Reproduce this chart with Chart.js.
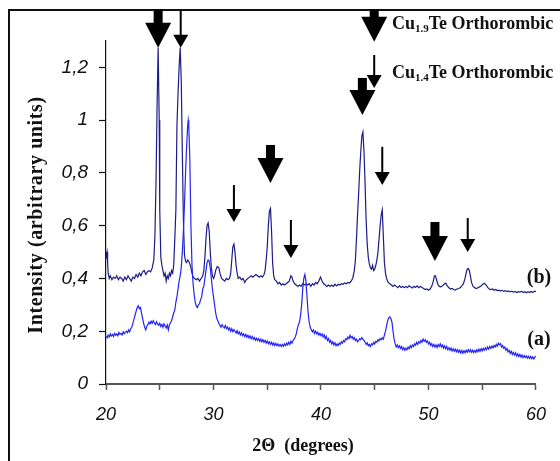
<!DOCTYPE html>
<html>
<head>
<meta charset="utf-8">
<script src="https://cdn.jsdelivr.net/npm/chart.js@4.4.1/dist/chart.umd.min.js"></script>
<style>
  html, body { margin: 0; padding: 0; background: #fff; }
  #xrdChart { display: block; }
</style>
</head>
<body>
<canvas id="xrdChart" width="560" height="461"></canvas>
<script>
// sample (a) - blue trace, [2theta, intensity]
const seriesA = [
  [20.0, 0.18], [20.1, 0.175], [20.2, 0.185], [20.3, 0.178], [20.4, 0.19], [20.5, 0.182], [20.6, 0.188], [20.7, 0.18],
  [20.8, 0.192], [20.9, 0.185], [21.0, 0.19], [21.1, 0.183], [21.2, 0.195], [21.3, 0.188], [21.4, 0.192], [21.5, 0.186],
  [21.6, 0.198], [21.7, 0.19], [21.8, 0.196], [21.9, 0.2], [22.0, 0.194], [22.1, 0.205], [22.2, 0.198], [22.3, 0.21],
  [22.4, 0.215], [22.5, 0.23], [22.6, 0.245], [22.7, 0.26], [22.8, 0.275], [22.9, 0.29], [23.0, 0.296], [23.1, 0.285],
  [23.2, 0.29], [23.3, 0.27], [23.4, 0.25], [23.5, 0.23], [23.6, 0.215], [23.7, 0.205], [23.8, 0.22], [23.9, 0.225],
  [24.0, 0.235], [24.1, 0.228], [24.2, 0.238], [24.3, 0.23], [24.4, 0.24], [24.5, 0.232], [24.6, 0.225], [24.7, 0.236],
  [24.8, 0.228], [24.9, 0.222], [25.0, 0.23], [25.1, 0.218], [25.2, 0.226], [25.3, 0.215], [25.4, 0.228], [25.5, 0.22],
  [25.6, 0.212], [25.7, 0.224], [25.8, 0.205], [25.9, 0.225], [26.0, 0.232], [26.1, 0.24], [26.2, 0.255], [26.3, 0.27],
  [26.4, 0.28], [26.5, 0.31], [26.6, 0.33], [26.7, 0.36], [26.8, 0.39], [26.9, 0.41], [27.0, 0.44], [27.1, 0.5],
  [27.2, 0.58], [27.3, 0.68], [27.4, 0.8], [27.5, 0.9], [27.6, 0.98], [27.65, 1.0], [27.7, 0.98], [27.8, 0.85],
  [27.9, 0.6], [28.0, 0.45], [28.1, 0.38], [28.2, 0.34], [28.3, 0.31], [28.4, 0.295], [28.5, 0.29], [28.6, 0.3],
  [28.7, 0.305], [28.8, 0.32], [28.9, 0.33], [29.0, 0.36], [29.1, 0.37], [29.2, 0.4], [29.3, 0.43], [29.4, 0.46],
  [29.5, 0.47], [29.6, 0.465], [29.7, 0.44], [29.8, 0.4], [29.9, 0.36], [30.0, 0.33], [30.1, 0.3], [30.2, 0.27],
  [30.3, 0.25], [30.4, 0.24], [30.5, 0.23], [30.6, 0.222], [30.7, 0.215], [30.8, 0.225], [30.9, 0.218], [31.0, 0.212],
  [31.1, 0.222], [31.2, 0.21], [31.3, 0.216], [31.4, 0.205], [31.5, 0.212], [31.6, 0.2], [31.7, 0.21], [31.8, 0.198],
  [31.9, 0.206], [32.0, 0.2], [32.1, 0.193], [32.2, 0.202], [32.3, 0.19], [32.4, 0.197], [32.5, 0.186], [32.6, 0.194],
  [32.7, 0.183], [32.8, 0.19], [32.9, 0.18], [33.0, 0.188], [33.1, 0.177], [33.2, 0.185], [33.3, 0.175], [33.4, 0.182],
  [33.5, 0.172], [33.6, 0.18], [33.7, 0.17], [33.8, 0.176], [33.9, 0.166], [34.0, 0.174], [34.1, 0.165], [34.2, 0.172],
  [34.3, 0.162], [34.4, 0.17], [34.5, 0.16], [34.6, 0.168], [34.7, 0.158], [34.8, 0.165], [34.9, 0.155], [35.0, 0.163],
  [35.1, 0.153], [35.2, 0.16], [35.3, 0.15], [35.4, 0.158], [35.5, 0.148], [35.6, 0.156], [35.7, 0.146], [35.8, 0.154],
  [35.9, 0.145], [36.0, 0.152], [36.1, 0.144], [36.2, 0.15], [36.3, 0.142], [36.4, 0.15], [36.5, 0.143], [36.6, 0.152],
  [36.7, 0.145], [36.8, 0.155], [36.9, 0.148], [37.0, 0.158], [37.1, 0.15], [37.2, 0.162], [37.3, 0.155], [37.4, 0.165],
  [37.5, 0.17], [37.6, 0.178], [37.7, 0.19], [37.8, 0.21], [37.9, 0.225], [38.0, 0.235], [38.1, 0.26], [38.2, 0.3],
  [38.3, 0.36], [38.4, 0.4], [38.5, 0.415], [38.6, 0.39], [38.7, 0.33], [38.8, 0.27], [38.9, 0.235], [39.0, 0.215],
  [39.1, 0.205], [39.2, 0.198], [39.3, 0.205], [39.4, 0.192], [39.5, 0.2], [39.6, 0.19], [39.7, 0.196], [39.8, 0.185],
  [39.9, 0.192], [40.0, 0.183], [40.1, 0.19], [40.2, 0.178], [40.3, 0.186], [40.4, 0.172], [40.5, 0.18], [40.6, 0.165],
  [40.7, 0.172], [40.8, 0.158], [40.9, 0.165], [41.0, 0.152], [41.1, 0.16], [41.2, 0.148], [41.3, 0.156], [41.4, 0.145],
  [41.5, 0.152], [41.6, 0.146], [41.7, 0.155], [41.8, 0.15], [41.9, 0.16], [42.0, 0.155], [42.1, 0.165], [42.2, 0.16],
  [42.3, 0.172], [42.4, 0.168], [42.5, 0.178], [42.6, 0.172], [42.7, 0.185], [42.8, 0.175], [42.9, 0.18], [43.0, 0.17],
  [43.1, 0.176], [43.2, 0.165], [43.3, 0.17], [43.4, 0.16], [43.5, 0.165], [43.6, 0.172], [43.7, 0.168], [43.8, 0.176],
  [43.9, 0.17], [44.0, 0.165], [44.1, 0.158], [44.2, 0.15], [44.3, 0.156], [44.4, 0.145], [44.5, 0.15], [44.6, 0.142],
  [44.7, 0.152], [44.8, 0.148], [44.9, 0.158], [45.0, 0.152], [45.1, 0.162], [45.2, 0.158], [45.3, 0.168], [45.4, 0.163],
  [45.5, 0.172], [45.6, 0.168], [45.7, 0.175], [45.8, 0.17], [45.9, 0.185], [46.0, 0.2], [46.1, 0.22], [46.2, 0.24],
  [46.3, 0.25], [46.4, 0.255], [46.5, 0.248], [46.6, 0.235], [46.7, 0.2], [46.8, 0.17], [46.9, 0.152], [47.0, 0.14],
  [47.1, 0.148], [47.2, 0.138], [47.3, 0.145], [47.4, 0.135], [47.5, 0.142], [47.6, 0.13], [47.7, 0.138], [47.8, 0.128],
  [47.9, 0.136], [48.0, 0.13], [48.1, 0.14], [48.2, 0.133], [48.3, 0.145], [48.4, 0.138], [48.5, 0.148], [48.6, 0.142],
  [48.7, 0.152], [48.8, 0.147], [48.9, 0.158], [49.0, 0.15], [49.1, 0.16], [49.2, 0.155], [49.3, 0.165], [49.4, 0.158],
  [49.5, 0.17], [49.6, 0.162], [49.7, 0.168], [49.8, 0.158], [49.9, 0.163], [50.0, 0.152], [50.1, 0.158], [50.2, 0.146],
  [50.3, 0.153], [50.4, 0.142], [50.5, 0.15], [50.6, 0.14], [50.7, 0.148], [50.8, 0.138], [50.9, 0.15], [51.0, 0.142],
  [51.1, 0.152], [51.2, 0.14], [51.3, 0.148], [51.4, 0.136], [51.5, 0.145], [51.6, 0.134], [51.7, 0.142], [51.8, 0.13],
  [51.9, 0.138], [52.0, 0.128], [52.1, 0.136], [52.2, 0.125], [52.3, 0.134], [52.4, 0.124], [52.5, 0.132], [52.6, 0.122],
  [52.7, 0.13], [52.8, 0.12], [52.9, 0.128], [53.0, 0.118], [53.1, 0.127], [53.2, 0.117], [53.3, 0.126], [53.4, 0.118],
  [53.5, 0.128], [53.6, 0.12], [53.7, 0.13], [53.8, 0.122], [53.9, 0.13], [54.0, 0.12], [54.1, 0.128], [54.2, 0.119],
  [54.3, 0.127], [54.4, 0.12], [54.5, 0.13], [54.6, 0.122], [54.7, 0.132], [54.8, 0.124], [54.9, 0.134], [55.0, 0.126],
  [55.1, 0.135], [55.2, 0.128], [55.3, 0.137], [55.4, 0.13], [55.5, 0.14], [55.6, 0.132], [55.7, 0.142], [55.8, 0.135],
  [55.9, 0.144], [56.0, 0.137], [56.1, 0.146], [56.2, 0.14], [56.3, 0.15], [56.4, 0.143], [56.5, 0.155], [56.6, 0.148],
  [56.7, 0.153], [56.8, 0.14], [56.9, 0.146], [57.0, 0.135], [57.1, 0.14], [57.2, 0.128], [57.3, 0.134], [57.4, 0.122],
  [57.5, 0.128], [57.6, 0.116], [57.7, 0.124], [57.8, 0.112], [57.9, 0.12], [58.0, 0.11], [58.1, 0.118], [58.2, 0.106],
  [58.3, 0.114], [58.4, 0.104], [58.5, 0.112], [58.6, 0.102], [58.7, 0.11], [58.8, 0.1], [58.9, 0.108], [59.0, 0.1],
  [59.1, 0.106], [59.2, 0.098], [59.3, 0.105], [59.4, 0.097], [59.5, 0.104], [59.6, 0.096], [59.7, 0.103], [59.8, 0.095],
  [59.9, 0.102], [60.0, 0.105]
];

// sample (b) - navy trace
const seriesB = [
  [20.0, 0.50], [20.05, 0.49], [20.1, 0.50], [20.15, 0.46], [20.2, 0.42], [20.3, 0.40], [20.4, 0.41], [20.55, 0.395],
  [20.7, 0.405], [20.85, 0.40], [21.0, 0.41], [21.15, 0.395], [21.3, 0.405], [21.45, 0.40], [21.6, 0.39], [21.75, 0.405],
  [21.9, 0.395], [22.05, 0.41], [22.2, 0.40], [22.35, 0.39], [22.5, 0.405], [22.65, 0.40], [22.8, 0.415], [22.95, 0.405],
  [23.1, 0.42], [23.25, 0.41], [23.4, 0.425], [23.55, 0.43], [23.7, 0.415], [23.85, 0.425], [24.0, 0.43], [24.15, 0.425],
  [24.3, 0.44], [24.45, 0.47], [24.55, 0.56], [24.65, 0.76], [24.75, 1.05], [24.85, 1.275], [24.95, 1.0], [25.0, 0.66],
  [25.1, 0.48], [25.2, 0.45], [25.3, 0.43], [25.4, 0.41], [25.5, 0.42], [25.6, 0.39], [25.7, 0.41], [25.8, 0.40],
  [25.9, 0.42], [26.0, 0.41], [26.1, 0.43], [26.2, 0.42], [26.3, 0.45], [26.4, 0.55], [26.5, 0.66], [26.6, 0.98],
  [26.7, 1.1], [26.8, 1.2], [26.9, 1.275], [27.0, 1.15], [27.1, 0.88], [27.2, 0.62], [27.3, 0.49], [27.4, 0.465],
  [27.5, 0.46], [27.6, 0.47], [27.7, 0.465], [27.8, 0.455], [27.9, 0.44], [28.0, 0.42], [28.1, 0.405], [28.25, 0.40],
  [28.4, 0.395], [28.55, 0.40], [28.7, 0.39], [28.85, 0.40], [29.0, 0.41], [29.1, 0.43], [29.2, 0.48], [29.3, 0.55],
  [29.4, 0.60], [29.5, 0.61], [29.6, 0.58], [29.7, 0.50], [29.8, 0.44], [29.9, 0.41], [30.0, 0.40], [30.1, 0.41],
  [30.2, 0.43], [30.35, 0.445], [30.5, 0.44], [30.6, 0.42], [30.75, 0.40], [30.9, 0.395], [31.05, 0.39], [31.2, 0.40],
  [31.35, 0.395], [31.5, 0.40], [31.6, 0.42], [31.7, 0.47], [31.8, 0.52], [31.9, 0.53], [32.0, 0.50], [32.1, 0.45],
  [32.2, 0.42], [32.3, 0.40], [32.45, 0.405], [32.6, 0.395], [32.75, 0.40], [32.9, 0.385], [33.05, 0.395], [33.2, 0.40],
  [33.35, 0.405], [33.5, 0.41], [33.65, 0.405], [33.8, 0.41], [33.95, 0.415], [34.1, 0.41], [34.25, 0.405], [34.4, 0.41],
  [34.55, 0.405], [34.7, 0.415], [34.8, 0.43], [34.9, 0.47], [35.0, 0.52], [35.1, 0.60], [35.2, 0.655], [35.3, 0.665],
  [35.4, 0.58], [35.5, 0.46], [35.6, 0.41], [35.7, 0.395], [35.85, 0.39], [36.0, 0.38], [36.15, 0.385], [36.3, 0.375],
  [36.45, 0.38], [36.6, 0.375], [36.75, 0.38], [36.9, 0.385], [37.05, 0.39], [37.2, 0.41], [37.3, 0.405], [37.4, 0.39],
  [37.55, 0.38], [37.7, 0.375], [37.85, 0.37], [38.0, 0.375], [38.15, 0.37], [38.3, 0.38], [38.45, 0.375], [38.6, 0.38],
  [38.75, 0.375], [38.9, 0.38], [39.05, 0.37], [39.2, 0.38], [39.35, 0.375], [39.5, 0.385], [39.65, 0.38], [39.8, 0.39],
  [39.95, 0.405], [40.1, 0.39], [40.25, 0.38], [40.4, 0.375], [40.55, 0.37], [40.7, 0.375], [40.85, 0.37], [41.0, 0.375],
  [41.15, 0.37], [41.3, 0.378], [41.45, 0.372], [41.6, 0.378], [41.75, 0.375], [41.9, 0.38], [42.05, 0.378], [42.2, 0.383],
  [42.35, 0.38], [42.5, 0.385], [42.65, 0.383], [42.8, 0.39], [42.95, 0.40], [43.1, 0.43], [43.2, 0.47], [43.3, 0.55],
  [43.4, 0.64], [43.5, 0.72], [43.6, 0.81], [43.7, 0.88], [43.8, 0.94], [43.9, 0.955], [44.0, 0.88], [44.1, 0.76],
  [44.2, 0.62], [44.3, 0.53], [44.4, 0.48], [44.5, 0.455], [44.6, 0.44], [44.7, 0.435], [44.8, 0.45], [44.9, 0.43],
  [45.0, 0.435], [45.1, 0.45], [45.2, 0.47], [45.3, 0.50], [45.4, 0.55], [45.5, 0.60], [45.6, 0.64], [45.7, 0.66],
  [45.8, 0.56], [45.9, 0.46], [46.0, 0.42], [46.1, 0.40], [46.25, 0.385], [46.4, 0.38], [46.55, 0.375], [46.7, 0.37],
  [46.85, 0.375], [47.0, 0.37], [47.15, 0.365], [47.3, 0.372], [47.45, 0.366], [47.6, 0.37], [47.75, 0.365], [47.9, 0.37],
  [48.05, 0.366], [48.2, 0.372], [48.35, 0.368], [48.5, 0.364], [48.65, 0.37], [48.8, 0.366], [48.95, 0.372], [49.1, 0.365],
  [49.25, 0.37], [49.4, 0.366], [49.55, 0.362], [49.7, 0.358], [49.85, 0.36], [50.0, 0.355], [50.15, 0.36], [50.3, 0.37],
  [50.45, 0.39], [50.55, 0.41], [50.65, 0.41], [50.75, 0.395], [50.85, 0.38], [51.0, 0.37], [51.15, 0.368], [51.3, 0.372],
  [51.45, 0.378], [51.6, 0.382], [51.75, 0.372], [51.9, 0.365], [52.05, 0.36], [52.2, 0.362], [52.35, 0.358], [52.5, 0.356],
  [52.65, 0.36], [52.8, 0.362], [52.95, 0.365], [53.1, 0.372], [53.25, 0.38], [53.4, 0.40], [53.5, 0.42], [53.6, 0.435],
  [53.7, 0.438], [53.8, 0.43], [53.9, 0.41], [54.0, 0.385], [54.15, 0.37], [54.3, 0.365], [54.45, 0.362], [54.6, 0.365],
  [54.75, 0.368], [54.9, 0.372], [55.05, 0.378], [55.2, 0.382], [55.35, 0.376], [55.5, 0.366], [55.65, 0.36], [55.8, 0.358],
  [55.95, 0.36], [56.1, 0.355], [56.25, 0.358], [56.4, 0.354], [56.55, 0.356], [56.7, 0.352], [56.85, 0.355], [57.0, 0.351],
  [57.15, 0.354], [57.3, 0.35], [57.45, 0.353], [57.6, 0.349], [57.75, 0.352], [57.9, 0.348], [58.05, 0.351], [58.2, 0.347],
  [58.35, 0.35], [58.5, 0.348], [58.65, 0.352], [58.8, 0.347], [58.95, 0.35], [59.1, 0.346], [59.25, 0.35], [59.4, 0.347],
  [59.55, 0.351], [59.7, 0.347], [59.85, 0.352], [60.0, 0.35]
];

// phase markers: [2theta, tail value, tip value]
const cu19Markers = [[24.85, 1.418, 1.274], [35.3, 0.906, 0.762], [43.85, 1.16, 1.02], [50.6, 0.614, 0.466]];
const cu14Markers = [[26.95, 1.418, 1.274], [31.9, 0.754, 0.614], [37.2, 0.622, 0.478], [45.7, 0.899, 0.754], [53.65, 0.629, 0.50]];
const keyMarkers = [[44.95, 1.418, 1.297, 'thick'], [44.95, 1.247, 1.122, 'thin']];

const xTicks = { min: 20, max: 60, step: 5 };
const yTicks = { min: 0, max: 1.3, step: 0.2 };

const serif = '"Liberation Serif", "Times New Roman", serif';
const sans = '"Liberation Sans", Arial, sans-serif';

const toPoints = (rows) => rows.map((r) => ({ x: r[0], y: r[1] }));

const drawArrow = (ctx, x, yTail, yTip, thick) => {
  const shaft = thick ? 9 : 2;
  const headW = thick ? 26 : 15;
  const headL = thick ? 25 : 13;
  ctx.fillStyle = '#000';
  ctx.fillRect(x - shaft / 2, yTail, shaft, yTip - headL - yTail + 1);
  ctx.beginPath();
  ctx.moveTo(x - headW / 2, yTip - headL);
  ctx.lineTo(x + headW / 2, yTip - headL);
  ctx.lineTo(x, yTip);
  ctx.closePath();
  ctx.fill();
};

const drawRich = (ctx, parts, x, y, size) => {
  let cx = x;
  parts.forEach((p) => {
    const s = p.sub ? Math.round(size * 0.62) : size;
    ctx.font = `bold ${s}px ${serif}`;
    ctx.fillText(p.t, cx, p.sub ? y + 3 : y);
    cx += ctx.measureText(p.t).width;
  });
};

const decorations = {
  id: 'decorations',
  beforeDraw(chart) {
    const ctx = chart.ctx;
    ctx.save();
    ctx.strokeStyle = '#111';
    ctx.lineWidth = 2;
    ctx.strokeRect(9, 10, 600, 500);
    ctx.restore();
  },
  afterDraw(chart) {
    const ctx = chart.ctx;
    const xs = chart.scales.x;
    const ys = chart.scales.y;
    ctx.save();
    cu19Markers.forEach((m) => drawArrow(ctx, xs.getPixelForValue(m[0]), ys.getPixelForValue(m[1]), ys.getPixelForValue(m[2]), true));
    cu14Markers.forEach((m) => drawArrow(ctx, xs.getPixelForValue(m[0]), ys.getPixelForValue(m[1]), ys.getPixelForValue(m[2]), false));
    keyMarkers.forEach((m) => drawArrow(ctx, xs.getPixelForValue(m[0]), ys.getPixelForValue(m[1]), ys.getPixelForValue(m[2]), m[3] === 'thick'));

    ctx.fillStyle = '#111';
    ctx.textBaseline = 'alphabetic';
    ctx.textAlign = 'left';
    drawRich(ctx, [{ t: 'Cu' }, { t: '1.9', sub: true }, { t: 'Te Orthorombic' }], 392, 29, 18);
    drawRich(ctx, [{ t: 'Cu' }, { t: '1.4', sub: true }, { t: 'Te Orthorombic' }], 392, 78, 18);

    ctx.font = `bold 20px ${serif}`;
    ctx.textAlign = 'center';
    ctx.textBaseline = 'middle';
    ctx.fillText('(b)', 539, 278);
    ctx.fillText('(a)', 539, 340);

    ctx.font = `bold 18px ${serif}`;
    ctx.fillText('2\u0398  (degrees)', 303, 446);

    ctx.translate(37, 215);
    ctx.rotate(-Math.PI / 2);
    ctx.font = `bold 20px ${serif}`;
    ctx.letterSpacing = '0.6px';
    ctx.fillText('Intensity (arbitrary units)', 0, 0);
    ctx.restore();
  },
};

const config = {
  type: 'line',
  data: {
    datasets: [
      {
        label: '(a)',
        data: toPoints(seriesA),
        borderColor: '#2424f4',
        borderWidth: 1.2,
        pointRadius: 0,
      },
      {
        label: '(b)',
        data: toPoints(seriesB),
        borderColor: '#1c1c88',
        borderWidth: 1.2,
        pointRadius: 0,
      },
    ],
  },
  options: {
    responsive: false,
    animation: false,
    layout: { padding: { top: 41, right: 14, left: 0, bottom: 0 } },
    plugins: { legend: { display: false }, tooltip: { enabled: false } },
    scales: {
      x: {
        type: 'linear',
        min: xTicks.min,
        max: xTicks.max,
        afterFit: (scale) => { scale.height = 77; },
        border: { color: '#555', width: 2 },
        grid: { drawOnChartArea: false, drawTicks: true, tickLength: 6, color: '#555', tickWidth: 1.5 },
        ticks: {
          stepSize: xTicks.step,
          padding: 14,
          maxRotation: 0,
          color: '#111',
          font: { family: sans, size: 18, style: 'italic' },
          callback: (v) => (v % 10 === 0 ? String(v) : ''),
        },
      },
      y: {
        min: yTicks.min,
        max: yTicks.max,
        afterFit: (scale) => { scale.width = 106; },
        afterBuildTicks: (scale) => { scale.ticks = scale.ticks.filter((t) => t.value < 1.25); },
        border: { color: '#111', width: 1.2 },
        grid: { drawOnChartArea: false, drawTicks: true, tickLength: 7, color: '#111', tickWidth: 1.2 },
        ticks: {
          stepSize: yTicks.step,
          padding: 11,
          color: '#111',
          font: { family: sans, size: 19, style: 'italic' },
          callback: (v) => {
            const r = Math.round(v * 10) / 10;
            return r === 0 || r === 1 ? String(r) : r.toFixed(1).replace('.', ',');
          },
        },
      },
    },
  },
  plugins: [decorations],
};

const xrdChart = document.getElementById('xrdChart');
new Chart(xrdChart, config);
</script>
</body>
</html>
